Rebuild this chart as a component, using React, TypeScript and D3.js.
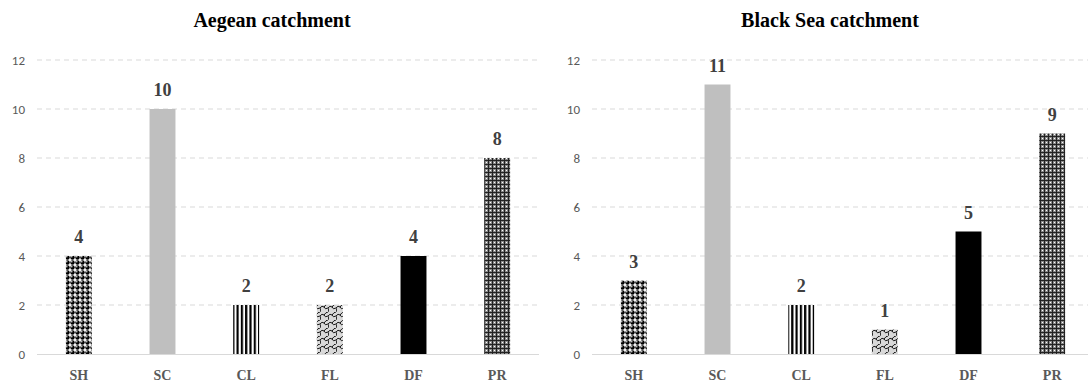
import React from "react";
import * as d3 from "d3";

const categories = ["SH", "SC", "CL", "FL", "DF", "PR"];
const aegeanValues = [4, 10, 2, 2, 4, 8];
const blackSeaValues = [3, 11, 2, 1, 5, 9];
const yTicks = [0, 2, 4, 6, 8, 10, 12];
const panelTitles = ["Aegean catchment", "Black Sea catchment"];

const W = 1088;
const H = 385;
const yTop = 60;
const yBottom = 354;

const fills: Record<string, string> = {
  SH: "url(#pat-sh)",
  SC: "#bfbfbf",
  CL: "url(#pat-cl)",
  FL: "url(#pat-fl)",
  DF: "#000000",
  PR: "url(#pat-pr)",
};

const panels = [
  { title: panelTitles[0], values: aegeanValues, x0: 37, x1: 539, titleX: 272 },
  { title: panelTitles[1], values: blackSeaValues, x0: 592, x1: 1094, titleX: 830 },
];

const serif = "'Liberation Serif', 'Times New Roman', serif";
const sans = "Carlito, 'Liberation Sans', Arial, sans-serif";

function Panel({ p }: { p: (typeof panels)[number] }) {
  const x = d3.scaleBand<string>().domain(categories).range([p.x0, p.x1]).paddingInner(0.69).paddingOuter(0.345);
  const y = d3.scaleLinear().domain([0, 12]).range([yBottom, yTop]);
  return (
    <g>
      <text x={p.titleX} y={27} textAnchor="middle" fontFamily={serif} fontWeight="bold" fontSize={20} fill="#000">
        {p.title}
      </text>
      {yTicks.map((t) => (
        <g key={t}>
          {t > 0 && (
            <line x1={p.x0} x2={p.x1} y1={y(t)} y2={y(t)} stroke="#d9d9d9" strokeWidth={1} strokeDasharray="5,4" />
          )}
          <text x={p.x0 - 12} y={y(t)} dy="0.35em" textAnchor="end" fontFamily={sans} fontSize={13} fill="#595959">
            {t}
          </text>
        </g>
      ))}
      {categories.map((c, i) => {
        const v = p.values[i];
        const bx = x(c)!;
        const bw = x.bandwidth();
        return (
          <g key={c}>
            <rect x={bx} y={y(v)} width={bw} height={yBottom - y(v)} fill={fills[c]} />
            <text x={bx + bw / 2} y={y(v) - 13} textAnchor="middle" fontFamily={serif} fontWeight="bold" fontSize={18} fill="#404040">
              {v}
            </text>
            <text x={bx + bw / 2} y={380} textAnchor="middle" fontFamily={serif} fontWeight="bold" fontSize={14} fill="#595959">
              {c}
            </text>
          </g>
        );
      })}
      <line x1={p.x0} x2={p.x1} y1={yBottom + 0.5} y2={yBottom + 0.5} stroke="#d9d9d9" strokeWidth={1} />
    </g>
  );
}

export default function App() {
  return (
    <div style={{ position: "absolute", left: 0, top: 0 }}>
      <svg width={W} height={H} style={{ display: "block", background: "#fff" }}>
        <defs>
          <pattern id="pat-sh" width={5} height={5} patternUnits="userSpaceOnUse">
            <rect width={5} height={5} fill="#fff" />
            <circle cx={2.5} cy={2.5} r={2.2} fill="#000" />
            <circle cx={1.8} cy={1.8} r={0.7} fill="#fff" />
          </pattern>
          <pattern id="pat-cl" width={4.3} height={4} patternUnits="userSpaceOnUse">
            <rect width={4.3} height={4} fill="#fff" />
            <rect width={2.2} height={4} fill="#000" />
          </pattern>
          <pattern id="pat-fl" width={8} height={8} patternUnits="userSpaceOnUse">
            <rect width={8} height={8} fill="#d9d9d9" />
            <path d="M0,4 Q2,1 4,3 Q5,6 8,4 M4,3 Q6,0 8,0 M0,8 Q1,6 0,4" fill="none" stroke="#000" strokeWidth={0.9} />
          </pattern>
          <pattern id="pat-pr" width={4} height={4} patternUnits="userSpaceOnUse">
            <rect width={4} height={4} fill="#8a8a8a" />
            <rect x={0} y={0} width={4} height={1} fill="#222" />
            <rect x={0} y={0} width={1} height={4} fill="#222" />
            <rect x={2} y={2} width={1} height={1} fill="#fff" />
          </pattern>
        </defs>
        {panels.map((p) => (
          <Panel key={p.title} p={p} />
        ))}
      </svg>
    </div>
  );
}
